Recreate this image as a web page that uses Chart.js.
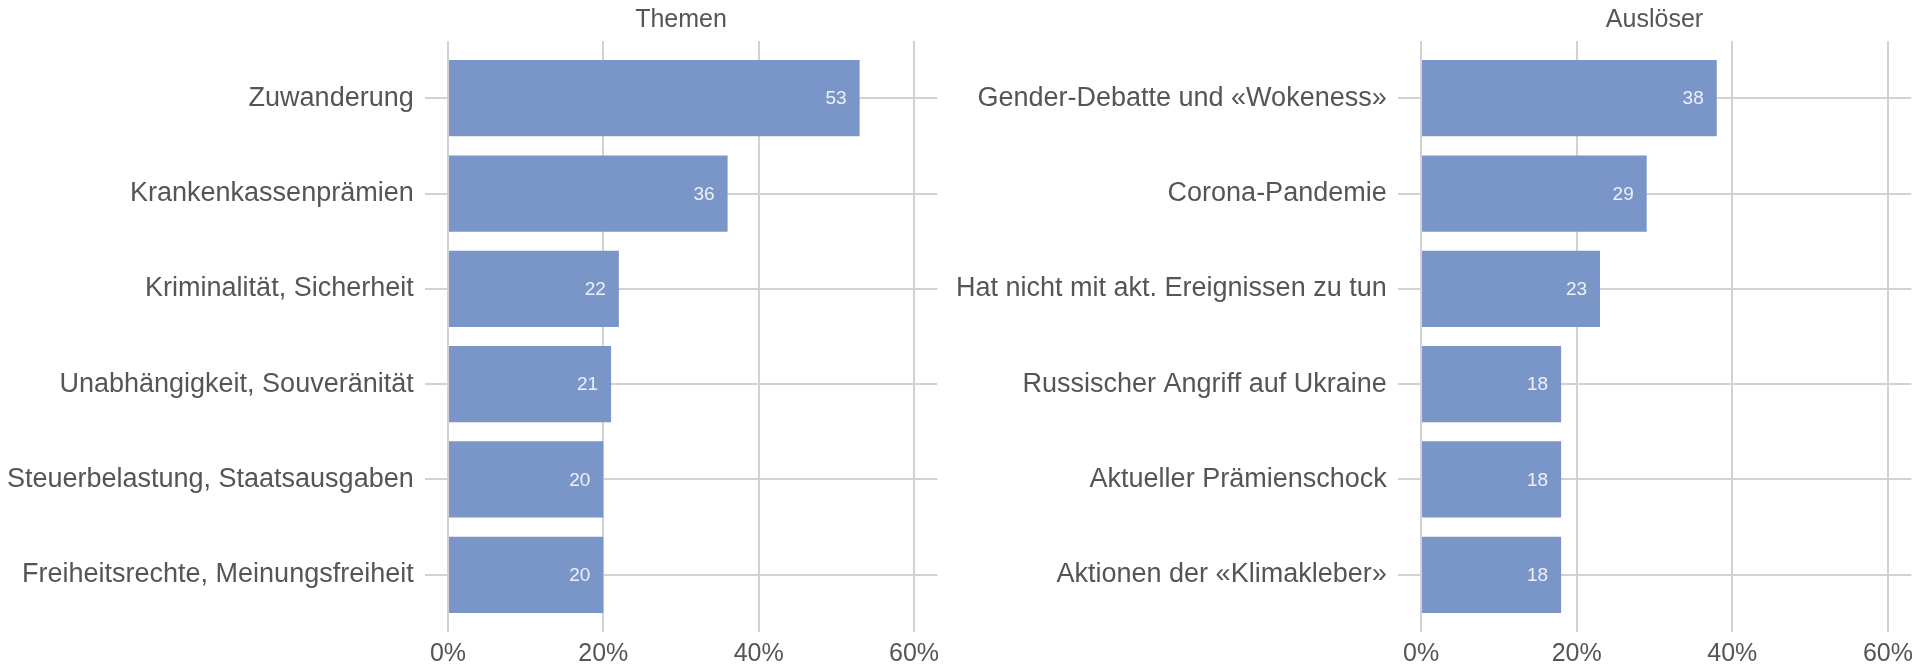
<!DOCTYPE html>
<html>
<head>
<meta charset="utf-8">
<script src="https://cdn.jsdelivr.net/npm/chart.js@4"></script>
<style>
  html, body { margin: 0; padding: 0; background: #fff; }
  #wrap { position: relative; width: 1926px; height: 668px; }
  .panel { position: absolute; top: 0; height: 668px; }
</style>
</head>
<body>
<div id="wrap">
  <div class="panel" style="left:0;width:963px"><canvas id="themenChart" width="963" height="668"></canvas></div>
  <div class="panel" style="left:900px;width:1026px"><canvas id="ausloeserChart" width="1026" height="668"></canvas></div>
</div>
<script>
const themenLabels = [
  "Zuwanderung",
  "Krankenkassenprämien",
  "Kriminalität, Sicherheit",
  "Unabhängigkeit, Souveränität",
  "Steuerbelastung, Staatsausgaben",
  "Freiheitsrechte, Meinungsfreiheit",
];
const themenValues = [53, 36, 22, 21, 20, 20];

const ausloeserLabels = [
  "Gender-Debatte und «Wokeness»",
  "Corona-Pandemie",
  "Hat nicht mit akt. Ereignissen zu tun",
  "Russischer Angriff auf Ukraine",
  "Aktueller Prämienschock",
  "Aktionen der «Klimakleber»",
];
const ausloeserValues = [38, 29, 23, 18, 18, 18];

const xTicks = [0, 20, 40, 60];

const font = '"Liberation Sans", Arial, sans-serif';
const barColor = "#7a96c8";
const gridColor = "#d2d2d2";
const textColor = "#555555";

// value labels inside the bar ends
const barLabels = {
  id: "barLabels",
  afterDatasetsDraw(chart) {
    const ctx = chart.ctx;
    const meta = chart.getDatasetMeta(0);
    ctx.save();
    ctx.font = "19px " + font;
    ctx.fillStyle = "#eef1f8";
    ctx.textAlign = "right";
    ctx.textBaseline = "middle";
    meta.data.forEach((bar, i) => {
      ctx.fillText(chart.data.datasets[0].data[i].x, bar.x - 13, bar.y + 1);
    });
    ctx.restore();
  },
};

const makeChart = (id, title, labels, values, axisWidth, padRight) => {
  new Chart(document.getElementById(id), {
    type: "bar",
    data: {
      datasets: [
        {
          data: values.map((v, i) => ({ x: v, y: i + 1 })),
          backgroundColor: barColor,
          borderWidth: 0,
          barPercentage: 0.8,
          categoryPercentage: 1,
        },
      ],
    },
    options: {
      indexAxis: "y",
      responsive: false,
      animation: false,
      layout: { padding: { left: 0, right: padRight, top: 0, bottom: 0 } },
      plugins: {
        legend: { display: false },
        tooltip: { enabled: false },
        title: {
          display: true,
          text: title,
          fullSize: false,
          color: textColor,
          font: { family: font, size: 25, weight: "normal" },
          padding: { top: 5, bottom: 6 },
        },
      },
      scales: {
        x: {
          type: "linear",
          min: -3,
          max: 63,
          afterBuildTicks: (scale) => {
            scale.ticks = xTicks.map((v) => ({ value: v }));
          },
          afterFit: (scale) => {
            scale.height = 36;
          },
          grid: { color: gridColor, lineWidth: 2, drawTicks: false },
          border: { display: false },
          ticks: {
            color: textColor,
            font: { family: font, size: 25 },
            padding: 7,
            maxRotation: 0,
            autoSkip: false,
            callback: (v) => v + "%",
          },
        },
        y: {
          type: "linear",
          reverse: true,
          offset: false,
          min: 0.4,
          max: 6.6,
          afterBuildTicks: (scale) => {
            scale.ticks = labels.map((_, i) => ({ value: i + 1 }));
          },
          afterFit: (scale) => {
            scale.width = axisWidth;
          },
          grid: { color: gridColor, lineWidth: 2, drawTicks: false, offset: false },
          border: { display: false },
          ticks: {
            color: textColor,
            font: { family: font, size: 27 },
            padding: 11,
            autoSkip: false,
            callback: (v) => labels[v - 1],
          },
        },
      },
    },
    plugins: [barLabels],
  });
};

makeChart("themenChart", "Themen", themenLabels, themenValues, 424.7, 25.7);
makeChart("ausloeserChart", "Auslöser", ausloeserLabels, ausloeserValues, 497.7, 14.7);
</script>
</body>
</html>
